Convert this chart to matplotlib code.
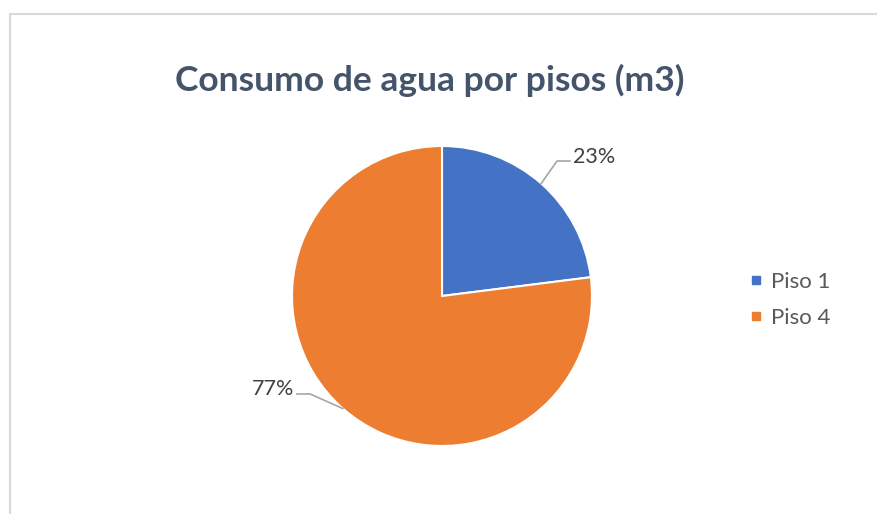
import matplotlib.pyplot as plt
import numpy as np
from matplotlib.lines import Line2D

plt.rcParams["font.family"] = ["Lato", "DejaVu Sans"]

categories = ["Piso 1", "Piso 4"]
values = [23, 77]
colors = ["#4472C4", "#ED7D31"]

W, H = 878, 514
fig = plt.figure(figsize=(W / 100, H / 100), dpi=100)

# chart border (only top and left visible in the crop)
fig.add_artist(Line2D([10 / W, 1], [1 - 14 / H, 1 - 14 / H], color="#D9D9D9", lw=1.5))
fig.add_artist(Line2D([10 / W, 10 / W], [0, 1 - 14 / H], color="#D9D9D9", lw=1.5))

fig.text(430 / W, 1 - 80 / H, "Consumo de agua por pisos (m3)", ha="center", va="center",
         fontsize=25.5, fontweight="bold", color="#44546A")

r_px = 150
cx, cy = 442, 296
ax = fig.add_axes([(cx - r_px) / W, (H - cy - r_px) / H, 2 * r_px / W, 2 * r_px / H])
wedges, _ = ax.pie(values, colors=colors, startangle=90, counterclock=False, radius=1,
                   wedgeprops={"edgecolor": "white", "linewidth": 1.5})
ax.set_xlim(-1, 1)
ax.set_ylim(-1, 1)
ax.set_aspect("equal")
ax.axis("off")

# data labels with leader lines
label_pos = [((0.767, 0.9), (0.853, 0.9), "left"), ((-0.88, -0.653), (-0.967, -0.653), "right")]
for w, v, (elbow, end, ha) in zip(wedges, values, label_pos):
    ang = np.deg2rad((w.theta1 + w.theta2) / 2)
    x0, y0 = np.cos(ang), np.sin(ang)
    ax.plot([x0, elbow[0], end[0]], [y0, elbow[1], end[1]], color="#A6A6A6", lw=1.2,
            clip_on=False)
    dx = 0.02 if ha == "left" else -0.02
    ax.text(end[0] + dx, end[1] + 0.03, f"{v}%", ha=ha, va="center", fontsize=15.5,
            color="#404040")

handles = [Line2D([], [], marker="s", linestyle="", markersize=6, color=c) for c in colors]
fig.legend(handles, categories, loc="center left", bbox_to_anchor=(725 / W, 1 - 300 / H),
           frameon=False, fontsize=16, labelcolor="#595959", handletextpad=0.15,
           labelspacing=0.7, handlelength=1.0)

fig.savefig("out.png", dpi=100)
